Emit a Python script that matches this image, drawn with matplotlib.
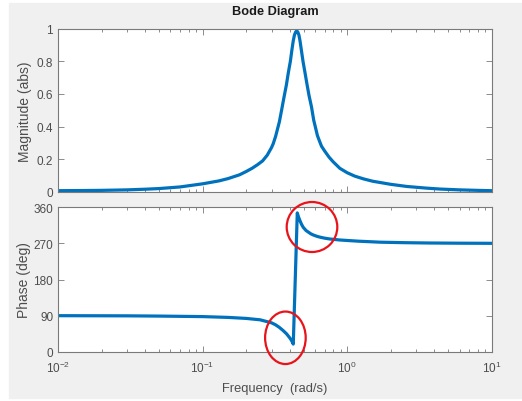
import matplotlib
matplotlib.use('Agg')
import matplotlib.pyplot as plt
from matplotlib.patches import Rectangle, Ellipse
from matplotlib.ticker import FuncFormatter, NullFormatter

plt.rcParams['font.family'] = ['Liberation Sans', 'DejaVu Sans']
plt.rcParams['mathtext.fontset'] = 'custom'
plt.rcParams['mathtext.rm'] = 'Liberation Sans'

# Amplitude (abs)
mag_freq = [0.01, 0.015, 0.02, 0.03, 0.04, 0.05, 0.07, 0.1, 0.13, 0.15, 0.18,
            0.2, 0.22, 0.24, 0.26, 0.28, 0.3, 0.308, 0.32, 0.34, 0.352, 0.365,
            0.38, 0.392, 0.405, 0.415, 0.424, 0.432, 0.44, 0.448, 0.456, 0.464,
            0.472, 0.482, 0.495, 0.51, 0.525, 0.545, 0.567, 0.587, 0.623, 0.648,
            0.665, 0.7, 0.75, 0.8, 0.89, 1.0, 1.13, 1.3, 1.5, 2.0, 2.58, 3.5,
            4.4, 6.0, 8.0, 10.0]
mag_vals = [0.008, 0.009, 0.010, 0.013, 0.017, 0.021, 0.031, 0.05, 0.068, 0.082,
            0.105, 0.125, 0.145, 0.167, 0.19, 0.225, 0.272, 0.295, 0.34, 0.43,
            0.50, 0.575, 0.655, 0.73, 0.80, 0.87, 0.925, 0.96, 0.978, 0.986,
            0.978, 0.96, 0.925, 0.87, 0.80, 0.735, 0.67, 0.59, 0.52, 0.44, 0.345,
            0.305, 0.28, 0.25, 0.213, 0.185, 0.145, 0.118, 0.097, 0.08, 0.066,
            0.047, 0.034, 0.024, 0.018, 0.013, 0.010, 0.008]

# Phase (deg)
ph_freq = [0.01, 0.03, 0.05, 0.1, 0.15, 0.2, 0.25, 0.3, 0.32, 0.34, 0.36, 0.38,
           0.39, 0.40, 0.41, 0.418, 0.424, 0.452, 0.46, 0.47, 0.483, 0.497,
           0.52, 0.54, 0.56, 0.583, 0.62, 0.65, 0.7, 0.76, 0.89, 1.0, 1.2, 1.7,
           2.5, 3.7, 6.0, 10.0]
ph_vals = [89.8, 89.4, 88.8, 87.5, 85.5, 83.0, 79.5, 72.0, 67.0, 60.5, 53.0,
           45.0, 40.0, 35.0, 29.5, 24.0, 19.0, 346.0, 337.0, 328.0, 318.0,
           310.0, 302.0, 298.0, 294.0, 291.0, 287.5, 285.5, 283.0, 281.0, 278.5,
           277.3, 275.5, 273.0, 271.8, 271.0, 270.5, 270.2]

blue = '#0072bd'
axcol = '#7a7a7a'
txtcol = '#4d4d4d'

fig = plt.figure(figsize=(5.22, 4.02), dpi=100)
fig.patch.set_facecolor('white')
W, H = 522, 402
fig.patches.append(Rectangle((9 / W, 1 - 399 / H), 513 / W, 395 / H,
                             transform=fig.transFigure, color='#f0f0f0', zorder=-10))

ax1 = fig.add_axes([58 / W, 1 - 193 / H, 433.7 / W, 163.5 / H])
ax2 = fig.add_axes([58 / W, 1 - 352.7 / H, 433.7 / W, 144.4 / H])

ax1.semilogx(mag_freq, mag_vals, color=blue, lw=2.3)
ax2.semilogx(ph_freq, ph_vals, color=blue, lw=2.3)

for ax in (ax1, ax2):
    ax.set_xlim(1e-2, 1e1)
    ax.tick_params(which='both', direction='in', top=True, right=True,
                   color=axcol, labelcolor=txtcol, labelsize=8.5, width=0.6)
    ax.tick_params(which='major', length=4)
    ax.tick_params(which='minor', length=2.5)
    for s in ax.spines.values():
        s.set_color(axcol)
        s.set_linewidth(0.8)

ax1.set_ylim(0, 1)
ax1.set_yticks([0, 0.2, 0.4, 0.6, 0.8, 1])
ax1.yaxis.set_major_formatter(FuncFormatter(lambda v, p: '%g' % v))
ax1.xaxis.set_major_formatter(NullFormatter())
ax1.set_ylabel('Magnitude (abs)', color=txtcol, fontsize=10, labelpad=3)

ax2.set_ylim(0, 360)
ax2.set_yticks([0, 90, 180, 270, 360])
ax2.tick_params(axis='x', which='major', pad=6)
ax2.set_ylabel('Phase (deg)', color=txtcol, fontsize=10, labelpad=2)
ax2.set_xlabel('Frequency  (rad/s)', color=txtcol, fontsize=9.3, labelpad=5)

fig.text(274.9 / W, 1 - 12 / H, 'Bode Diagram', ha='center', va='center',
         fontsize=9.2, fontweight='bold', color='#1a1a1a')

# red markers around the phase wrap
red = '#e8141b'
fig.patches.append(Ellipse((312 / W, 1 - 228 / H), 50.6 / W, 50 / H,
                           transform=fig.transFigure, fill=False, ec=red, lw=1.6, zorder=10))
fig.patches.append(Ellipse((285.4 / W, 1 - 338.8 / H), 40.6 / W, 52.5 / H,
                           transform=fig.transFigure, fill=False, ec=red, lw=1.6, zorder=10))

fig.savefig('out.png', dpi=100, facecolor=fig.get_facecolor())
